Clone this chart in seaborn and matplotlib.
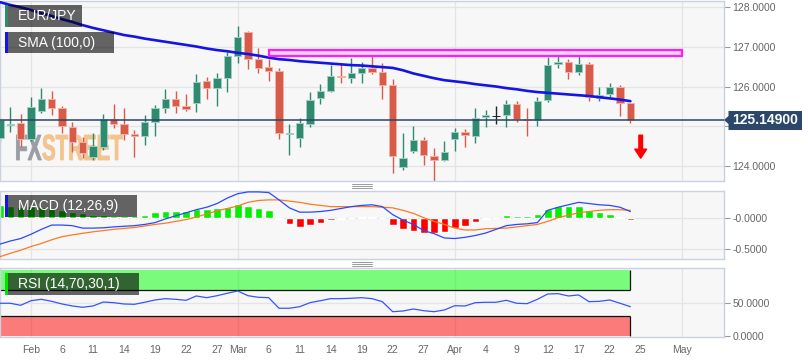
import numpy as np
import pandas as pd
import matplotlib.pyplot as plt
import seaborn as sns
from matplotlib.patches import Rectangle, Polygon, PathPatch
from matplotlib.lines import Line2D
from matplotlib.textpath import TextPath
from matplotlib.font_manager import FontProperties
from matplotlib import transforms as mtransforms

# trading days on the chart: 29 Jan - 24 Apr 2019 (daily candles)
days = pd.bdate_range('2019-01-29', '2019-04-24')
axis_days = pd.bdate_range('2019-01-29', '2019-05-10')

opens = [124.69, 125.03, 125.09, 124.67, 125.38, 125.69, 125.47, 124.98, 124.61, 124.23,
         124.48, 125.18, 125.05, 124.80, 124.76, 125.11, 125.46, 125.68, 125.51, 125.59,
         126.15, 125.95, 126.21, 126.77, 127.37, 126.69, 126.50, 126.40, 124.80, 124.71,
         125.05, 125.70, 125.89, 126.27, 126.21, 126.33, 126.46, 126.37, 126.04, 123.97,
         124.38, 124.65, 124.25, 124.14, 124.68, 124.86, 124.75, 125.24, 125.25, 125.28,
         125.56, 125.17, 125.15, 125.66, 126.57, 126.63, 126.36, 126.56, 125.72, 125.80,
         126.00, 125.58]
highs = [125.20, 125.48, 125.30, 125.73, 125.95, 125.89, 125.52, 125.11, 124.73, 124.82,
         125.30, 125.55, 125.45, 124.90, 125.28, 125.53, 125.93, 125.89, 125.81, 126.32,
         126.25, 126.35, 126.88, 127.53, 127.40, 126.96, 126.69, 126.46, 125.05, 125.20,
         125.87, 126.06, 126.54, 126.59, 126.71, 126.61, 126.77, 126.60, 126.18, 124.82,
         125.01, 124.73, 124.44, 124.63, 124.94, 124.92, 125.45, 125.41, 125.52, 125.66,
         125.64, 125.45, 125.74, 126.75, 126.77, 126.69, 126.84, 126.61, 125.98, 126.10,
         126.04, 125.59]
lows = [124.60, 124.85, 124.48, 124.62, 125.32, 125.28, 124.82, 124.35, 124.19, 124.14,
        124.40, 124.94, 124.65, 124.23, 124.52, 124.76, 125.34, 125.32, 125.37, 125.36,
        125.68, 125.51, 125.87, 126.60, 126.43, 126.35, 126.15, 124.67, 124.26, 124.46,
        124.98, 125.56, 125.87, 126.10, 126.08, 126.08, 126.31, 125.68, 123.81, 123.89,
        124.33, 124.02, 123.62, 124.13, 124.36, 124.46, 124.58, 124.97, 125.05, 124.97,
        125.11, 124.75, 125.01, 125.62, 126.48, 126.18, 126.29, 125.64, 125.64, 125.74,
        125.25, 125.07]
closes = [125.15, 125.06, 124.67, 125.49, 125.69, 125.47, 125.00, 124.61, 124.33, 124.50,
          125.18, 125.05, 124.80, 124.75, 125.11, 125.46, 125.68, 125.52, 125.42, 126.12,
          125.95, 126.21, 126.77, 127.24, 126.69, 126.48, 126.40, 124.82, 124.83, 125.07,
          125.66, 125.89, 126.27, 126.23, 126.33, 126.46, 126.37, 126.04, 124.25, 124.20,
          124.65, 124.27, 124.14, 124.35, 124.86, 124.78, 125.21, 125.27, 125.25, 125.56,
          125.17, 125.15, 125.63, 126.54, 126.61, 126.37, 126.56, 125.73, 125.79, 126.00,
          125.58, 125.149]

sma100 = [128.13, 128.06, 128.00, 127.93, 127.85, 127.78, 127.70, 127.63, 127.55, 127.48,
          127.42, 127.36, 127.30, 127.26, 127.21, 127.17, 127.13, 127.09, 127.05, 127.01,
          126.96, 126.92, 126.89, 126.85, 126.82, 126.78, 126.73, 126.69, 126.67, 126.64,
          126.62, 126.60, 126.58, 126.56, 126.54, 126.53, 126.51, 126.49, 126.47, 126.41,
          126.33, 126.27, 126.21, 126.16, 126.13, 126.10, 126.06, 126.03, 126.00, 125.96,
          125.93, 125.89, 125.86, 125.84, 125.82, 125.80, 125.78, 125.76, 125.73, 125.70,
          125.67, 125.63]

macd_line = [-0.42, -0.37, -0.33, -0.26, -0.18, -0.11, -0.11, -0.12, -0.16, -0.16,
             -0.155, -0.14, -0.13, -0.12, -0.10, -0.07, -0.01, 0.04, 0.09, 0.14,
             0.18, 0.24, 0.33, 0.40, 0.43, 0.43, 0.42, 0.30, 0.17, 0.10,
             0.10, 0.11, 0.13, 0.16, 0.19, 0.21, 0.22, 0.19, 0.06, -0.03,
             -0.10, -0.20, -0.25, -0.32, -0.33, -0.31, -0.28, -0.24, -0.18, -0.12,
             -0.10, -0.09, -0.07, 0.13, 0.18, 0.22, 0.26, 0.24, 0.22, 0.21,
             0.18, 0.11]
signal_line = [-0.625, -0.57, -0.52, -0.46, -0.41, -0.35, -0.30, -0.27, -0.245, -0.22,
               -0.20, -0.18, -0.165, -0.15, -0.125, -0.10, -0.08, -0.05, -0.02, 0.02,
               0.07, 0.12, 0.16, 0.20, 0.26, 0.29, 0.30, 0.30, 0.28, 0.26,
               0.23, 0.21, 0.19, 0.19, 0.19, 0.19, 0.19, 0.18, 0.17, 0.13,
               0.08, 0.01, -0.05, -0.10, -0.16, -0.19, -0.19, -0.17, -0.165, -0.16,
               -0.14, -0.12, -0.10, -0.05, 0.01, 0.05, 0.09, 0.11, 0.13, 0.14,
               0.14, 0.13]
macd_hist = [0.21, 0.20, 0.19, 0.20, 0.19, 0.16, 0.13, 0.10, 0.08, 0.06,
             0.05, 0.04, 0.03, 0.03, 0.05, 0.10, 0.12, 0.12, 0.12, 0.15,
             0.15, 0.16, 0.19, 0.23, 0.20, 0.17, 0.13, -0.01, -0.10, -0.14,
             -0.11, -0.07, -0.03, -0.01, 0.01, 0.02, 0.02, 0.005, -0.11, -0.18,
             -0.20, -0.235, -0.245, -0.22, -0.16, -0.12, -0.055, -0.01, 0.01, 0.05,
             0.04, 0.04, 0.07, 0.15, 0.20, 0.20, 0.20, 0.135, 0.10, 0.07,
             0.02, -0.02]

rsi14 = [49.8, 49.8, 46.7, 53.7, 55.8, 52.8, 48.7, 45.7, 43.7, 45.7,
         51.7, 50.7, 48.7, 48.2, 51.3, 54.8, 56.8, 55.8, 54.3, 60.9,
         58.3, 61.3, 65.0, 68.5, 61.3, 58.9, 58.3, 42.2, 42.2, 44.6,
         50.7, 53.7, 56.8, 56.8, 57.4, 58.3, 56.8, 52.2, 37.0, 38.0,
         41.1, 38.5, 37.0, 39.6, 46.1, 45.7, 50.7, 51.3, 51.3, 54.3,
         49.8, 49.2, 55.8, 63.9, 64.4, 60.9, 62.4, 52.2, 52.8, 54.8,
         49.8, 44.6]

last_price = 125.149
resistance_low, resistance_high = 126.78, 126.92
resistance_from, resistance_to = '2019-03-06', '2019-05-01'

tick_days = ['2019-02-01', '2019-02-06', '2019-02-11', '2019-02-14', '2019-02-19', '2019-02-22',
             '2019-02-27', '2019-03-01', '2019-03-06', '2019-03-11', '2019-03-14', '2019-03-19',
             '2019-03-22', '2019-03-27', '2019-04-01', '2019-04-04', '2019-04-09', '2019-04-12',
             '2019-04-17', '2019-04-22', '2019-04-25', '2019-05-01']
tick_labels = ['Feb', '6', '11', '14', '19', '22', '27', 'Mar', '6', '11', '14', '19',
               '22', '27', 'Apr', '4', '9', '12', '17', '22', '25', 'May']
month_days = ['2019-02-01', '2019-03-01', '2019-04-01', '2019-05-01']


def day_pos(d):
    if isinstance(d, str):
        return int(axis_days.get_loc(pd.Timestamp(d)))
    return axis_days.get_indexer(pd.to_datetime(list(d)))


sns.set_style('white')
plt.rcParams['font.family'] = ['Liberation Sans', 'DejaVu Sans']

W, H = 808, 363
BG = '#f7f7f7'
GRID = '#e4e4e4'
BORDER = '#c9d1e3'
GREEN = '#2f8a70'
RED = '#d85a48'

fig = plt.figure(figsize=(W / 100, H / 100), dpi=100)
fig.patch.set_facecolor('white')


def frame(top, bottom, left=0, right=724):
    return [left / W, 1 - bottom / H, (right - left) / W, (bottom - top) / H]


def fxy(x, y):
    return (x / W, 1 - y / H)


ax_p = fig.add_axes(frame(0.7, 181))
ax_m = fig.add_axes(frame(190.7, 259))
ax_r = fig.add_axes(frame(268.3, 336.7))

x = np.arange(len(days))
o = np.array(opens)
c = np.array(closes)
months = day_pos(month_days)

for ax in (ax_p, ax_m, ax_r):
    ax.set_facecolor(BG)
    for s in ax.spines.values():
        s.set_color(BORDER)
        s.set_linewidth(1)
    ax.yaxis.tick_right()
    ax.tick_params(axis='y', direction='out', length=4, width=0.8, color='#999999',
                   labelcolor='#666666', labelsize=7.5, pad=2)
    ax.grid(False)
    for m in months:
        ax.axvline(m, color=GRID, lw=0.9, zorder=0.5)

# ---- price panel
ax_p.set_ylim(123.614, 128.167)
ax_p.set_yticks([124, 125, 126, 127, 128])
ax_p.set_yticklabels(['124.0000', '', '126.0000', '127.0000', '128.0000'])
for yv in [124, 125, 126, 127, 128]:
    ax_p.axhline(yv, color=GRID, lw=0.9, zorder=0.5)
ax_p.set_xticks([])

# watermark
fp = FontProperties(family='Liberation Sans', weight='bold')
tp_fx = TextPath((0, 0), 'FX', size=1, prop=fp)
tp_st = TextPath((0, 0), 'STREET', size=1, prop=fp)
sy = 0.25 / tp_fx.get_extents().height
for tp, x0, width, col in [(tp_fx, 0.15, 0.25, '#9a9da3'), (tp_st, 0.42, 0.80, '#f2c48e')]:
    tr = mtransforms.Affine2D().scale(width / tp.get_extents().width, sy) \
        .translate(x0, (H - 160) / 100) + fig.dpi_scale_trans
    ax_p.add_patch(PathPatch(tp, transform=tr, facecolor=col, edgecolor=col, lw=0.6, zorder=1))

# candles
cols = np.where(c > o, GREEN, np.where(c < o, RED, '#222222'))
edges = np.where(c > o, '#9fcdbf', np.where(c < o, '#f0b1a8', '#222222'))
ax_p.vlines(x, lows, highs, colors=cols, lw=1.0, zorder=2)
body = np.maximum(np.abs(c - o), 0.012)
ax_p.bar(x, body, bottom=np.minimum(o, c), width=0.72, color=cols, edgecolor=edges,
         linewidth=0.7, zorder=3)

sns.lineplot(x=x, y=sma100, ax=ax_p, color='#1414e6', lw=1.9, zorder=4)

r0, r1 = day_pos(resistance_from), day_pos(resistance_to)
ax_p.add_patch(Rectangle((r0, resistance_low), r1 - r0, resistance_high - resistance_low,
                         facecolor='#ffd2ff', edgecolor='#ff1aff', lw=1.6, zorder=4))

ax_p.axhline(last_price, color='#27446a', lw=1.1, zorder=5)

arrow_x = day_pos('2019-04-25')
ax_p.annotate('', xy=(arrow_x, 124.19), xytext=(arrow_x, 124.77),
              arrowprops=dict(facecolor='#ff0000', edgecolor='#ff0000', width=2.6,
                              headwidth=8.5, headlength=6.5, shrink=0), zorder=6)

# ---- MACD panel
ax_m.set_ylim(-0.663, 0.4495)
ax_m.set_yticks([0, -0.5])
ax_m.set_yticklabels(['-0.0000', '-0.5000'])
for yv in [0, -0.5]:
    ax_m.axhline(yv, color=GRID, lw=0.9, zorder=0.5)
ax_m.set_xticks([])
h = np.array(macd_hist)
ax_m.bar(x, h, width=0.74, color=np.where(h >= 0, '#00f000', '#ff0000'), zorder=2)
sns.lineplot(x=x, y=signal_line, ax=ax_m, color='#ff7a1f', lw=0.9, zorder=3)
sns.lineplot(x=x, y=macd_line, ax=ax_m, color='#2a48ff', lw=0.9, zorder=3)

# ---- RSI panel
ax_r.set_ylim(-1.07, 103.0)
ax_r.set_yticks([50, 0])
ax_r.set_yticklabels(['50.0000', '0.0000'])
ax_r.axhline(50, color=GRID, lw=0.9, zorder=0.5)
last = x[-1]
ax_r.fill_between([0, last], 70, 100, color='#00ff00', alpha=0.5, lw=0, zorder=1)
ax_r.fill_between([0, last], 0, 30, color='#ff0000', alpha=0.5, lw=0, zorder=1)
ax_r.hlines([70, 30], 0, last, colors='#111111', lw=0.9, zorder=2)
ax_r.vlines([last, last], [70, 0], [100, 30], colors='#111111', lw=0.9, zorder=2)
sns.lineplot(x=x, y=rsi14, ax=ax_r, color='#3355ff', lw=0.9, zorder=3)
ax_r.set_xticks(day_pos(tick_days))
ax_r.set_xticklabels(tick_labels)
ax_r.tick_params(axis='x', direction='out', length=3, width=0.8, color='#999999',
                 labelcolor='#666666', labelsize=7.5, pad=3)

for ax in (ax_p, ax_m, ax_r):
    ax.set_xlabel('')
    ax.set_ylabel('')
    ax.set_xlim(0, 70.06)

# ---- overlays in figure pixels
def tag(x0, y0, x1, y1, text, stripe):
    fig.add_artist(Rectangle(fxy(x0, y1), (x1 - x0) / W, (y1 - y0) / H,
                             transform=fig.transFigure, facecolor='black', alpha=0.6,
                             edgecolor='none', zorder=10))
    fig.add_artist(Rectangle(fxy(x0, y1), 2.5 / W, (y1 - y0) / H,
                             transform=fig.transFigure, facecolor=stripe,
                             edgecolor='none', zorder=11))
    fig.text(*fxy(18, (y0 + y1) / 2), text, color='white', fontsize=10,
             va='center', ha='left', zorder=12)


tag(5, 5, 82, 27, 'EUR/JPY', GREEN)
tag(5, 32, 114, 53, 'SMA (100,0)', '#1414e6')
tag(5, 195, 137, 217, 'MACD (12,26,9)', '#1414e6')
tag(5, 273, 139, 295, 'RSI (14,70,30,1)', '#00e600')

py = 120
label_pts = [(724, py), (728.5, py - 4), (728.5, py - 9), (802, py - 9),
             (802, py + 10), (728.5, py + 10), (728.5, py + 4)]
fig.add_artist(Polygon([fxy(a, b) for a, b in label_pts], closed=True,
                       transform=fig.transFigure, facecolor='#2b4769',
                       edgecolor='none', zorder=10))
fig.text(*fxy(765.5, py + 0.5), '125.14900', color='white', fontsize=10,
         fontweight='bold', ha='center', va='center', zorder=11)

for yy in (183.8, 185.8, 187.8, 261.8, 263.8, 265.8):
    fig.add_artist(Line2D([352 / W, 372 / W], [1 - yy / H, 1 - yy / H],
                          transform=fig.transFigure, color='#8a8a8a', lw=0.6))

fig.savefig('out.png', dpi=100, facecolor='white')
